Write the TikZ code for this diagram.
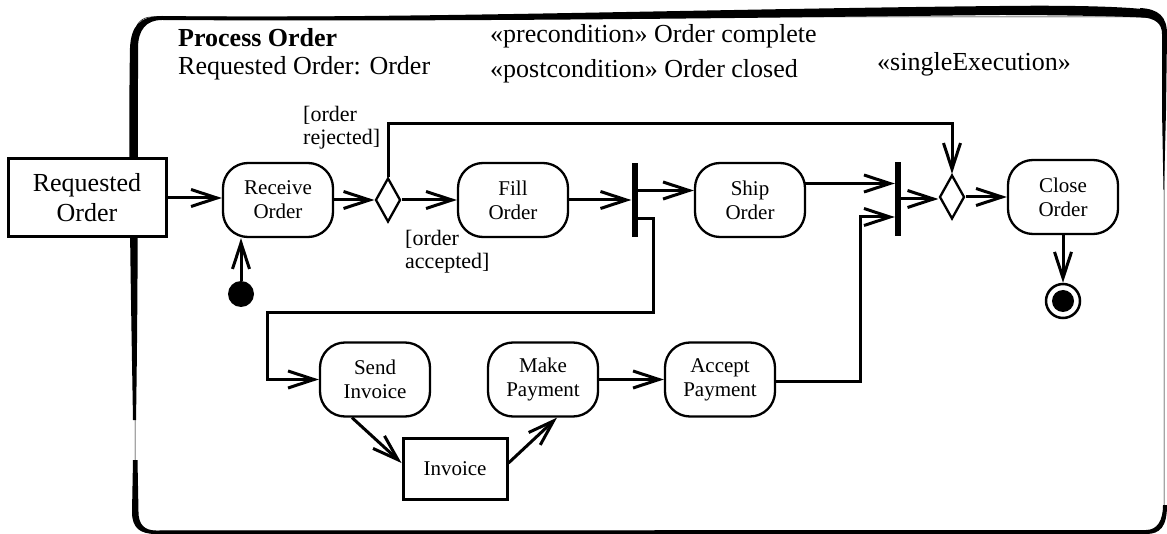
\documentclass[tikz,border=0pt]{standalone}
\usepackage{fontspec}
\setmainfont{Liberation Serif}
\usetikzlibrary{arrows.meta,shapes.geometric}
\begin{document}
\begin{tikzpicture}[x=1pt,y=-1pt,
  act/.style={draw,line width=2.3pt,rounded corners=25pt,minimum width=110pt,minimum height=74pt,inner sep=0pt,align=center,font=\fontsize{21}{24}\selectfont},
  obj/.style={draw,fill=white,line width=3pt,inner sep=0pt,align=center},
  dec/.style={draw,diamond,line width=2.3pt,minimum width=25pt,minimum height=44pt,inner sep=0pt},
  bar/.style={fill=black,minimum width=6pt,minimum height=74pt,inner sep=0pt},
  flow/.style={line width=3pt,-{Straight Barb[length=26pt,width=17pt]}},
  lbl/.style={font=\fontsize{26}{30}\selectfont,anchor=base west,inner sep=0pt},
  grd/.style={font=\fontsize{22}{23}\selectfont,align=left,anchor=base west,inner sep=0pt}
]
\useasboundingbox (0,0) rectangle (1167,534);
% frame (brush-like outline)
\draw[line width=0.5pt,rounded corners=16pt] (135,17) rectangle (1164,531);
\fill (133,420) .. controls (131,300) and (128,150) .. (130,48) .. controls (131,26) and (140,16) .. (162,16)
  .. controls (400,19) and (700,9) .. (1000,6) .. controls (1080,5) and (1130,7) .. (1150,10)
  -- (1150,18) .. controls (1120,16) and (1050,15) .. (1000,15) .. controls (800,17) and (500,22) .. (162,20)
  .. controls (146,20) and (138,30) .. (138,48) .. controls (138,150) and (138,300) .. (136,420) -- cycle;
\fill (1140,8) .. controls (1158,9) and (1167,16) .. (1167,34) -- (1166,110) -- (1164,190) -- (1163.5,190)
  -- (1162,110) -- (1162,34) .. controls (1162,24) and (1156,18) .. (1140,17) -- cycle;
\fill (133,460) -- (132,512) .. controls (132,528) and (140,534) .. (156,534) -- (1146,534)
  .. controls (1160,534) and (1167,527) .. (1167,505) -- (1163,505) .. controls (1163,521) and (1157,530) .. (1146,530)
  -- (156,530.5) .. controls (144,530.5) and (138.5,524) .. (138.5,512) -- (137.5,460) -- cycle;

% texts
\node[lbl,font=\bfseries\fontsize{26}{30}\selectfont] (title) at (178,47) {Process Order};
\node[lbl] (param) at (178,75) {Requested Order: Order};
\node[lbl] (pre) at (490,43) {«precondition» Order complete};
\node[lbl] (post) at (490,78) {«postcondition» Order closed};
\node[lbl] (single) at (877,71) {«singleExecution»};
\node[grd] (grej) at (303,145) {[order\\rejected]};
\node[grd] (gacc) at (405,269) {[order\\accepted]};

% nodes
\node[obj,font=\fontsize{26}{30}\selectfont,minimum width=158pt,minimum height=78pt] (req) at (87,198) {Requested\\Order};
\node[act] (recv) at (278,200) {Receive\\Order};
\node[dec] (d1) at (388,200) {};
\node[act] (fill) at (513,200) {Fill\\Order};
\node[bar] (fork) at (634.5,200) {};
\node[act] (ship) at (750,200) {Ship\\Order};
\node[bar] (join) at (898,199) {};
\node[dec] (d2) at (952,197) {};
\node[act] (close) at (1063,197) {Close\\Order};
\node[circle,fill,minimum size=26pt,inner sep=0pt] (init) at (241,294) {};
\node[circle,draw,line width=2.5pt,minimum size=34pt,inner sep=0pt] (final) at (1063,301) {};
\fill (final.center) circle[radius=11pt];
\node[act] (send) at (375,379.5) {Send\\Invoice};
\node[act] (make) at (543,379.5) {Make\\Payment};
\node[act] (accept) at (720,379.5) {Accept\\Payment};
\node[obj,font=\fontsize{21}{24}\selectfont,minimum width=104pt,minimum height=61pt] (inv) at (455,468.5) {Invoice};

% connectors
\draw[flow] (req.east) -- (req.east -| recv.west);
\draw[flow] (recv.east) -- (d1.west);
\draw[flow] (d1.east) -- (fill.west);
\draw[flow] (fill.east) -- (fork.west);
\draw[flow] ([yshift=9.5pt]fork.east) -- ([yshift=9.5pt]fork.east -| ship.west);
\draw[flow] ([yshift=16.5pt,xshift=-1pt]ship.east) -- ([yshift=16.5pt]ship.east -| join.west);
\draw[flow] ([yshift=-18.5pt]fork.east) -| (653,313) -- (267,313) |- (send.west);
\draw[flow] ([yshift=-2.5pt]accept.east) -| ([xshift=-34pt,yshift=-18pt]join.west) -- ([yshift=-18pt]join.west);
\draw[flow] (join.east) -- (join.east -| d2.west);
\draw[flow] (d2.east) -- (d2.east -| close.west);
\draw[flow] (close.south) -- (final.north);
\draw[flow] (init.north) -- (init.north |- recv.south);
\draw[flow] (d1.north) -- ++(0,-53) -| (d2.north);
\draw[flow] ([xshift=-23pt]send.south) -- ([yshift=5.5pt]inv.west);
\draw[flow] ([yshift=5.5pt]inv.east) -- ([xshift=14pt]make.south);
\draw[flow] (make.east) -- (accept.west);
\end{tikzpicture}
\end{document}
